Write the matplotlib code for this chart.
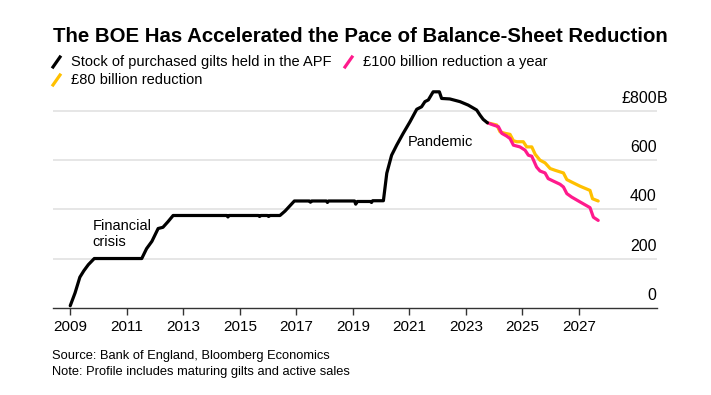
import matplotlib
matplotlib.use("Agg")
import matplotlib.pyplot as plt
import matplotlib.transforms as mtransforms
from matplotlib.lines import Line2D

plt.rcParams['font.family'] = ['Liberation Sans', 'DejaVu Sans']

# Stock of purchased gilts held in the APF (GBP bn), decimal years
apf_years = [2009.0, 2009.17, 2009.34, 2009.48, 2009.64, 2009.85, 2011.53, 2011.70,
             2011.89, 2012.11, 2012.28, 2012.46, 2012.64, 2014.54, 2014.58, 2014.62,
             2015.66, 2015.70, 2015.74, 2015.98, 2016.02, 2016.06, 2016.42, 2016.60,
             2016.93, 2017.46, 2017.50, 2017.54, 2018.06, 2018.10, 2018.14, 2019.06,
             2019.10, 2019.16, 2019.62, 2019.66, 2019.70, 2020.08, 2020.20, 2020.37,
             2020.55, 2020.78, 2021.02, 2021.26, 2021.43, 2021.55, 2021.67, 2021.84,
             2022.06, 2022.14, 2022.43, 2022.79, 2023.08, 2023.38, 2023.50, 2023.61,
             2023.76]
apf_values = [8, 60, 124, 150, 175, 200, 200, 240,
              270, 322, 327, 350, 375, 375, 369, 375,
              375, 371, 375, 375, 371, 375, 375, 393,
              434, 434, 429, 434, 434, 428, 434, 434,
              421, 432, 432, 428, 435, 435, 547, 620,
              661, 709, 756, 807, 817, 838, 845, 878,
              878, 851, 849, 838, 824, 804, 783, 766,
              752]

# GBP 100bn reduction a year
fast_years = [2023.76, 2023.97, 2024.15, 2024.27, 2024.44, 2024.56, 2024.68, 2024.91,
              2025.09, 2025.21, 2025.33, 2025.50, 2025.62, 2025.80, 2025.91, 2026.09,
              2026.33, 2026.45, 2026.57, 2026.74, 2027.04, 2027.39, 2027.51, 2027.68]
fast_values = [752, 743, 736, 709, 698, 688, 661, 654,
               641, 620, 616, 572, 556, 548, 525, 515,
               502, 491, 464, 450, 430, 407, 368, 355]

# GBP 80bn reduction
slow_years = [2023.76, 2024.09, 2024.21, 2024.39, 2024.56, 2024.68, 2024.80, 2025.03,
              2025.15, 2025.33, 2025.45, 2025.62, 2025.80, 2025.98, 2026.15, 2026.45,
              2026.57, 2026.74, 2027.04, 2027.39, 2027.48, 2027.68]
slow_values = [752, 743, 715, 709, 705, 679, 675, 675,
               654, 654, 624, 600, 589, 566, 559, 548,
               521, 511, 494, 477, 443, 434]

x_ticks = list(range(2009, 2029, 2))
y_ticks = [0, 200, 400, 600, 800]
y_labels = ['0', '200', '400', '600', '£800']

black = '#000000'
pink = '#ff1a8c'
yellow = '#ffc000'

fig = plt.figure(figsize=(7.11, 3.95), dpi=100)
ax = fig.add_axes([53 / 711, 87.3 / 395, 603.7 / 711, 221.3 / 395])

for v in y_ticks[1:]:
    ax.axhline(v, color='#e2e2e2', lw=1.2, zorder=1)

kw = dict(lw=2.3, solid_joinstyle='round', solid_capstyle='round')
ax.plot(slow_years, slow_values, color=yellow, zorder=3, **kw)
ax.plot(fast_years, fast_values, color=pink, zorder=3, **kw)
ax.plot(apf_years, apf_values, color=black, zorder=4, **kw)

ax.set_xlim(2008.39, 2029.75)
ax.set_ylim(0, 900)
for s in ['top', 'right', 'left']:
    ax.spines[s].set_visible(False)
ax.spines['bottom'].set_color('#333333')
ax.spines['bottom'].set_linewidth(1.0)
ax.set_xticks(x_ticks)
ax.set_xticklabels([str(y) for y in x_ticks], fontsize=11)
ax.tick_params(axis='x', direction='out', length=5, width=1, color='#333333', pad=4)
ax.set_yticks([])

trans = mtransforms.blended_transform_factory(ax.transAxes, ax.transData)
off = mtransforms.offset_copy(trans, fig=fig, x=0, y=5, units='dots')
for v, lab in zip(y_ticks, y_labels):
    ax.text(1.0, v, lab, transform=off, ha='right', va='bottom', fontsize=11.5)
ax.text(1.0, 800, 'B', transform=off, ha='left', va='bottom', fontsize=11.5)

ax.text(2009.8, 300, 'Financial\ncrisis', fontsize=10.5, ha='left', va='center',
        linespacing=1.15)
ax.text(2020.95, 675, 'Pandemic', fontsize=10.5, ha='left', va='center')

fig.text(53 / 711, 1 - 36 / 395, 'The BOE Has Accelerated the Pace of Balance-Sheet Reduction',
         fontsize=14.7, fontweight='bold', ha='left', va='center')

legend_rows = [(53, 62, black, 'Stock of purchased gilts held in the APF'),
               (345, 62, pink, '£100 billion reduction a year'),
               (53, 80, yellow, '£80 billion reduction')]
for x0, y0, c, lab in legend_rows:
    fig.add_artist(Line2D([x0 / 711, (x0 + 7) / 711],
                          [1 - (y0 + 5) / 395, 1 - (y0 - 5) / 395],
                          color=c, lw=2.3, transform=fig.transFigure))
    fig.text((x0 + 18) / 711, 1 - y0 / 395, lab, fontsize=10.5, ha='left', va='center')

fig.text(52 / 711, 1 - 356 / 395, 'Source: Bank of England, Bloomberg Economics',
         fontsize=9.3, ha='left', va='center')
fig.text(52 / 711, 1 - 372 / 395, 'Note: Profile includes maturing gilts and active sales',
         fontsize=9.3, ha='left', va='center')

fig.savefig('out.png', dpi=100)
